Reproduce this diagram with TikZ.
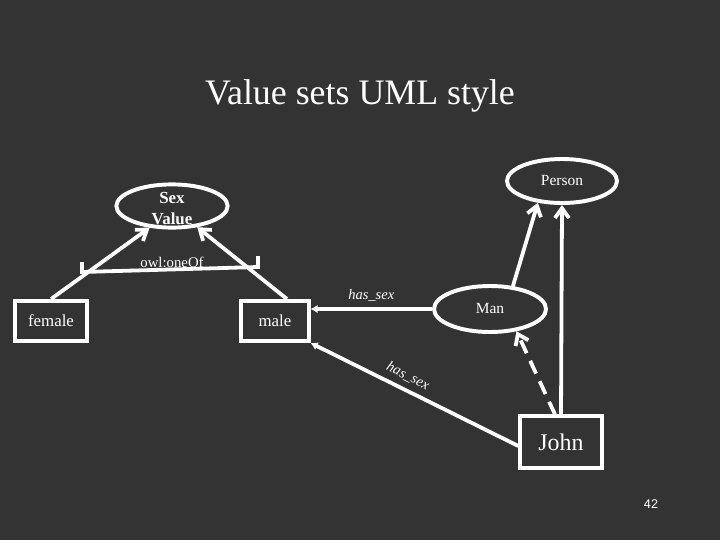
\documentclass[tikz,border=0pt]{standalone}
\usepackage{fontspec}
\setmainfont{Liberation Serif}
\newfontfamily\pagenofont{Liberation Sans}
\usetikzlibrary{positioning,arrows.meta,shapes.geometric,calc}
\definecolor{SlideBg}{RGB}{51,51,51}
\definecolor{Ink}{RGB}{255,255,255}

\begin{document}
\begin{tikzpicture}[
  x=0.025cm, y=-0.025cm,
  >={Straight Barb[length=7pt,width=10pt]},
  cls/.style={
    ellipse, draw=Ink, line width=2.8pt, text=Ink, inner sep=0pt,
    font=\fontsize{11}{13}\selectfont
  },
  inst/.style={
    rectangle, draw=Ink, line width=2.8pt, text=Ink, inner sep=0pt,
    minimum height=1cm, font=\fontsize{12}{14}\selectfont
  },
  arrow/.style={->, line width=2.7pt, draw=Ink},
  prop/.style={-{Latex[length=5pt,width=6pt]}, line width=2.7pt, draw=Ink},
  plbl/.style={text=Ink, font=\fontsize{10.3}{12}\selectfont\itshape, inner sep=1pt}
]
\fill[SlideBg] (0,0) rectangle (720,540);
\useasboundingbox (0,0) rectangle (720,540);

% --- TITLE ---
\node[text=Ink, font=\fontsize{25.5}{30}\selectfont] (title) at (360,96) {Value sets UML style};

% --- CLASSES ---
\node[cls, minimum width=2.78cm, minimum height=1.08cm,
  label={[text=Ink, align=center, font=\fontsize{12}{15}\selectfont\bfseries, yshift=-2pt]center:Sex\\Value}]
  (sexval) at (172,206) {};
\node[cls, minimum width=2.75cm, minimum height=1.1cm] (person) at (562,181) {Person};
\node[cls, minimum width=2.8cm, minimum height=1.15cm] (man) at (490,309) {Man};

% --- INDIVIDUALS ---
\node[inst, minimum width=1.8cm] (female) at (51,321) {female};
\node[inst, minimum width=1.68cm] (male) at (275,321) {male};
\node[inst, minimum width=2.03cm, minimum height=1.28cm, font=\fontsize{17}{20}\selectfont] (john) at (561,442) {John};

% --- owl:oneOf bracket ---
\draw[Ink, line width=2.7pt] (82,262) -- (82,272) -- (258,267) -- (258,256);
\node[text=Ink, font=\fontsize{10.5}{12}\selectfont, inner sep=1pt] (oneof) at (172,262) {owl:oneOf};

% --- arrows ---
\draw[arrow] (female.north) -- (sexval.224);
\draw[arrow] ([xshift=0.3cm]male.north) -- (sexval.-40);
\draw[arrow] (man.45) -- (person.222);
\draw[arrow] (john.north) -- (person.south);
\draw[arrow, dash pattern=on 10pt off 6pt] ([xshift=-0.15cm]john.north) -- (man.-40);

% --- properties ---
\draw[prop] (man.west) -- (man.west -| male.east)
  node[midway, above=3pt, plbl] {has\_sex};
\draw[prop] ([yshift=-0.1cm]john.west) -- (male.south east)
  node[pos=0.56, above=3pt, sloped, plbl] {has\_sex};

% --- page number ---
\node[text=Ink, font=\pagenofont\fontsize{9}{11}\selectfont] (pageno) at (651,504) {42};

\end{tikzpicture}
\end{document}
